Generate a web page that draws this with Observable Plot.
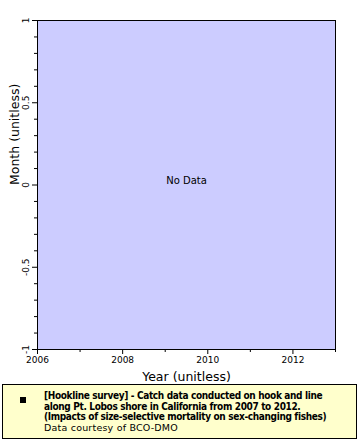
<!DOCTYPE html>
<html>
<head>
<meta charset="utf-8">
<script src="https://cdn.jsdelivr.net/npm/d3@7"></script>
<script src="https://cdn.jsdelivr.net/npm/@observablehq/plot@0.6"></script>
<style>
  html, body { margin: 0; padding: 0; background: #fff; }
  body { width: 360px; height: 440px; overflow: hidden; font-family: "DejaVu Sans", sans-serif; }
  #legend {
    position: absolute; left: 2px; top: 384px; width: 353px; height: 53px;
    background: #ffffcc; border: 1px solid #000; box-sizing: content-box;
    font-size: 10px; line-height: 10.5px;
  }
  #legend .sw { position: absolute; left: 17px; top: 12px; width: 6px; height: 6px; background: #000; }
  #legend .txt { position: absolute; left: 41px; top: 6px; white-space: nowrap; }
  #legend b { font-family: "DejaVu Sans Condensed", "DejaVu Sans", sans-serif; font-weight: bold; letter-spacing: -0.35px; }
  #legend span { font-family: "DejaVu Sans", sans-serif; font-size: 9.5px; letter-spacing: 0.2px; }
</style>
</head>
<body>
<div id="chart"></div>
<div id="legend">
  <div class="sw"></div>
  <div class="txt">
    <b>[Hookline survey] - Catch data conducted on hook and line</b><br>
    <b>along Pt. Lobos shore in California from 2007 to 2012.</b><br>
    <b>(Impacts of size-selective mortality on sex-changing fishes)</b><br>
    <span>Data courtesy of BCO-DMO</span>
  </div>
</div>
<script>
const xDomain = [2006, 2013];
const yDomain = [-1, 1];
const xMajorTicks = [2006, 2008, 2010, 2012];
const xMinorTicks = [2007, 2009, 2011, 2013];
const yMajorTicks = [-1, -0.5, 0, 0.5, 1];
const yMinorTicks = [-0.9, -0.8, -0.7, -0.6, -0.4, -0.3, -0.2, -0.1, 0.1, 0.2, 0.3, 0.4, 0.6, 0.7, 0.8, 0.9];
const noDataLabel = [{x: 2009.5, y: 0, text: "No Data"}];

const plot = Plot.plot({
  width: 360,
  height: 384,
  marginLeft: 37,
  marginTop: 20,
  marginRight: 25,
  marginBottom: 35,
  style: {fontFamily: "DejaVu Sans, sans-serif", fontSize: "9px", color: "#000", background: "transparent"},
  x: {domain: xDomain},
  y: {domain: yDomain},
  marks: [
    Plot.frame({fill: "#ccccff", stroke: "none"}),
    Plot.axisX({ticks: xMajorTicks, tickSize: 5, tickPadding: 2, tickFormat: d => String(d), label: null, fontSize: 9}),
    Plot.axisX({ticks: xMinorTicks, tickSize: 3, tickFormat: () => "", label: null}),
    Plot.axisY({ticks: yMajorTicks, tickSize: 5, tickFormat: () => "", label: null}),
    Plot.axisY({ticks: yMinorTicks, tickSize: 3, tickFormat: () => "", label: null}),
    Plot.text(yMajorTicks, {y: d => d, text: d => String(d), frameAnchor: "left", dx: -11, rotate: -90, textAnchor: "middle", lineAnchor: "middle", fontSize: 9, fill: "#000"}),
    Plot.frame({stroke: "#000", strokeWidth: 1}),
    Plot.text(noDataLabel, {x: "x", y: "y", text: "text", dy: -4, fontSize: 10, fill: "#000"}),
    Plot.text(["Year (unitless)"], {frameAnchor: "bottom", dy: 31, fontSize: 12.5, fill: "#000"}),
    Plot.text(["Month (unitless)"], {frameAnchor: "left", dx: -23, rotate: -90, fontSize: 12.5, fill: "#000"})
  ]
});
document.getElementById("chart").appendChild(plot);
</script>
</body>
</html>
